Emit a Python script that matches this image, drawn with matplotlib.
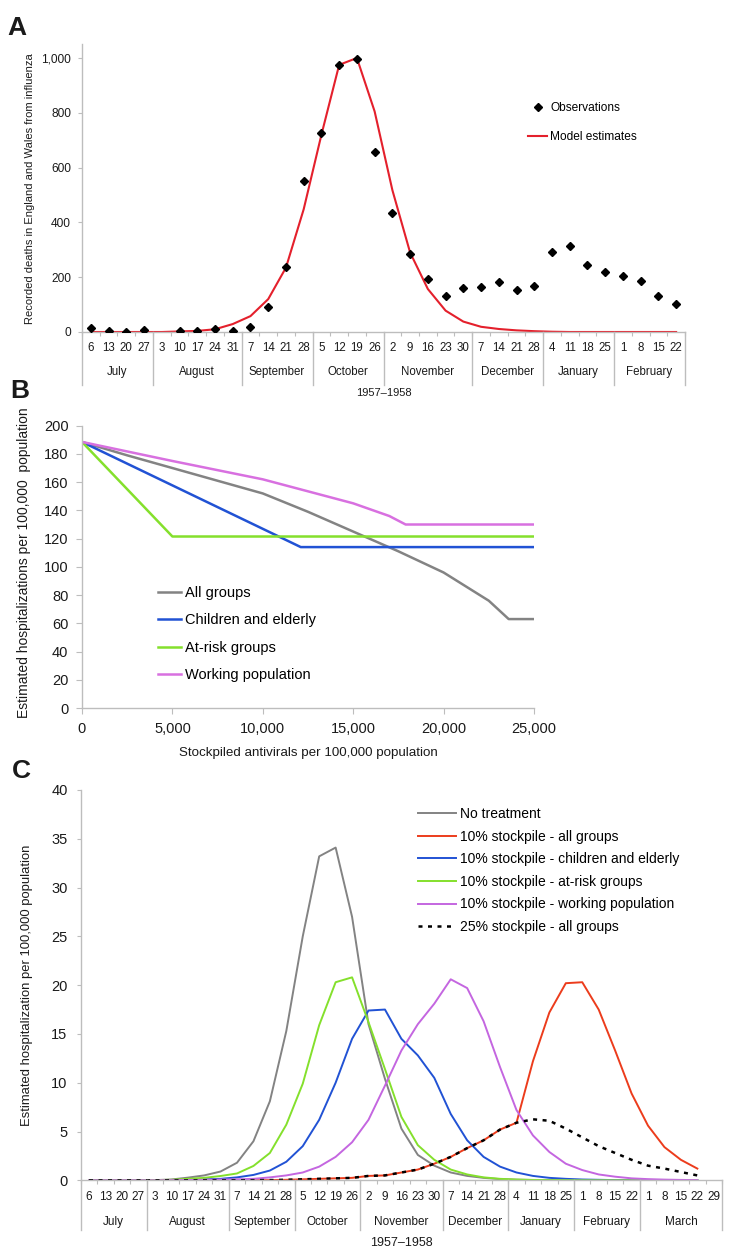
"""Three-panel figure: 1957-58 influenza deaths (A), hospitalizations vs stockpile (B),
and weekly hospitalization curves for stockpile strategies (C)."""

import numpy as np
import matplotlib
matplotlib.use("Agg")
import matplotlib.pyplot as plt
from matplotlib.lines import Line2D

plt.rcParams["font.family"] = ["Liberation Sans", "DejaVu Sans"]

W, H, DPI = 750, 1259, 100

# ── Panel A: weekly deaths ───────────────────────────────────────────────────
A_DAYS = [6, 13, 20, 27, 3, 10, 17, 24, 31, 7, 14, 21, 28, 5, 12, 19, 26,
          2, 9, 16, 23, 30, 7, 14, 21, 28, 4, 11, 18, 25, 1, 8, 15, 22]
A_MONTHS = ["July", "August", "September", "October", "November",
            "December", "January", "February"]
A_WEEKS = [4, 5, 4, 4, 5, 4, 4, 4]
A_OBS = [13, 3, 0, 7, np.nan, 3, 3, 12, 3, 18, 91, 236, 550, 727, 975, 998, 657,
         433, 285, 195, 132, 160, 164, 184, 153, 167, 293, 315, 246, 218,
         206, 186, 130, 102]
A_MODEL = [0, 0, 0, 0, 0, 2, 4, 10, 29, 58, 120, 235, 448, 720, 975, 1000, 805,
           518, 290, 157, 78, 38, 19, 11, 6, 3, 1, 0, 0, 0, 0, 0, 0, 0]

# ── Panel B: hospitalizations vs stockpile size ──────────────────────────────
B_ALL_X = [0, 2500, 5000, 7500, 10000, 12500, 15000, 17500, 20000, 22500, 23600, 25000]
B_ALL_Y = [188.5, 179, 170, 161, 152, 139, 125, 111, 96, 76, 63, 63]
B_CHILD_X = [0, 12100, 25000]
B_CHILD_Y = [188.5, 114, 114]
B_RISK_X = [0, 5000, 25000]
B_RISK_Y = [188.5, 121.5, 121.5]
B_WORK_X = [0, 5000, 10000, 15000, 17000, 17900, 25000]
B_WORK_Y = [188.5, 175, 162, 145, 136, 130, 130]

# ── Panel C: weekly hospitalizations ─────────────────────────────────────────
C_DAYS = [6, 13, 20, 27, 3, 10, 17, 24, 31, 7, 14, 21, 28, 5, 12, 19, 26,
          2, 9, 16, 23, 30, 7, 14, 21, 28, 4, 11, 18, 25, 1, 8, 15, 22,
          1, 8, 15, 22, 29]
C_MONTHS = ["July", "August", "September", "October", "November",
            "December", "January", "February", "March"]
C_WEEKS = [4, 5, 4, 4, 5, 4, 4, 4, 5]
C_NONE = [0, 0, 0, 0, 0.02, 0.08, 0.27, 0.5, 0.9, 1.8, 4.0, 8.1, 15.3, 25.0,
          33.2, 34.1, 27.0, 16.0, 10.4, 5.3, 2.6, 1.5, 0.8, 0.45, 0.25, 0.12,
          0.06, 0.03, 0.02, 0.01, 0, 0, 0, 0, 0, 0, 0, 0]
C_ALL10 = [0, 0, 0, 0, 0, 0, 0, 0, 0, 0, 0.01, 0.02, 0.05, 0.1, 0.15, 0.2,
           0.25, 0.45, 0.5, 0.8, 1.1, 1.7, 2.4, 3.3, 4.1, 5.2, 5.9, 12.2,
           17.2, 20.2, 20.3, 17.5, 13.3, 8.9, 5.6, 3.4, 2.1, 1.2]
C_CHILD = [0, 0, 0, 0, 0, 0.02, 0.05, 0.1, 0.15, 0.3, 0.55, 1.0, 1.9, 3.5,
           6.2, 10.0, 14.5, 17.4, 17.5, 14.5, 12.8, 10.5, 6.8, 4.1, 2.4, 1.4,
           0.8, 0.45, 0.25, 0.15, 0.08, 0.05, 0.02, 0.01, 0, 0, 0, 0]
C_RISK = [0, 0, 0, 0, 0.02, 0.05, 0.15, 0.25, 0.44, 0.7, 1.47, 2.8, 5.7, 9.9,
          15.9, 20.3, 20.8, 16.2, 11.4, 6.5, 3.6, 2.1, 1.1, 0.6, 0.3, 0.15,
          0.08, 0.04, 0.02, 0.01, 0, 0, 0, 0, 0, 0, 0, 0]
C_WORK = [0, 0, 0, 0, 0, 0.01, 0.03, 0.05, 0.08, 0.1, 0.15, 0.3, 0.5, 0.8,
          1.4, 2.4, 3.9, 6.2, 9.7, 13.3, 16.0, 18.1, 20.6, 19.7, 16.3, 11.6,
          7.2, 4.6, 2.9, 1.7, 1.05, 0.6, 0.37, 0.2, 0.12, 0.07, 0.04, 0.02]
C_ALL25 = [0, 0, 0, 0, 0, 0, 0, 0, 0, 0, 0.01, 0.02, 0.05, 0.1, 0.15, 0.2,
           0.25, 0.45, 0.5, 0.8, 1.1, 1.7, 2.4, 3.3, 4.1, 5.2, 5.9, 6.25,
           6.1, 5.3, 4.4, 3.5, 2.8, 2.1, 1.5, 1.2, 0.85, 0.5]

AXIS_GRAY = "#bdbdbd"
TEXT = "#1a1a1a"
GRAY = "#838383"
RED_A = "#e4202c"
RED = "#ec3c1c"
BLUE = "#2152d4"
GREEN = "#84e02c"
VIOLET_B = "#d870e0"
VIOLET = "#c466e0"


def px_box(left, top, right, bottom):
    return [left / W, 1 - bottom / H, (right - left) / W, (bottom - top) / H]


def style_spines(ax):
    for s in ("top", "right"):
        ax.spines[s].set_visible(False)
    for s in ("left", "bottom"):
        ax.spines[s].set_color(AXIS_GRAY)
        ax.spines[s].set_linewidth(1.0)


def category_axis(ax, days, months, weeks, fs_day, fs_month, fs_year,
                  month_off, sep_off, year_off):
    n = len(days)
    ax.set_xlim(-0.5, n - 0.5)
    ax.set_xticks(range(n))
    ax.set_xticklabels([str(d) for d in days], fontsize=fs_day, color=TEXT)
    ax.set_xticks(np.arange(-0.5, n, 1.0), minor=True)
    ax.tick_params(axis="x", which="major", length=0, pad=7.5)
    ax.tick_params(axis="x", which="minor", length=3, width=0.8,
                   color=AXIS_GRAY, direction="out")
    h = ax.get_position().height * H
    trans = ax.get_xaxis_transform()
    edges = np.concatenate([[0], np.cumsum(weeks)]) - 0.5
    for e in edges:
        ax.plot([e, e], [0, -sep_off / h], color=AXIS_GRAY, lw=1.0,
                transform=trans, clip_on=False)
    for m, a, b in zip(months, edges[:-1], edges[1:]):
        ax.text((a + b) / 2, -month_off / h, m, transform=trans, ha="center",
                va="center", fontsize=fs_month, color=TEXT)
    ax.text((edges[0] + edges[-1]) / 2, -year_off / h, "1957\u20131958",
            transform=trans, ha="center", va="center", fontsize=fs_year,
            color=TEXT)


fig = plt.figure(figsize=(W / DPI, H / DPI), dpi=DPI)

# ── A ────────────────────────────────────────────────────────────────────────
axA = fig.add_axes(px_box(82, 44.3, 685, 332))
style_spines(axA)
xa = np.arange(len(A_DAYS))
axA.plot(xa, A_MODEL, color=RED_A, lw=1.5, zorder=2)
axA.plot(xa, A_OBS, ls="none", marker="D", ms=3.6, color="black", zorder=3)
axA.set_ylim(0, 1050)
axA.set_yticks(range(0, 1001, 200))
axA.set_yticklabels([f"{v:,}" for v in range(0, 1001, 200)], fontsize=8.6,
                    color=TEXT)
axA.tick_params(axis="y", length=3, color=AXIS_GRAY, pad=5)
category_axis(axA, A_DAYS, A_MONTHS, A_WEEKS, 8.3, 8.3, 8.0, 40, 53, 61)
axA.set_ylabel("Recorded deaths in England and Wales from influenza",
               fontsize=8.0, color=TEXT, va="center")
axA.yaxis.set_label_coords(-0.086, 0.5)
fig.legend(handles=[
    Line2D([0], [0], ls="none", marker="D", ms=3.6, color="black",
           label="Observations"),
    Line2D([0], [0], color=RED_A, lw=1.5, label="Model estimates")],
    loc="upper left", bbox_to_anchor=(528 / W, 1 - 102 / H), frameon=False,
    fontsize=8.6, borderpad=0, borderaxespad=0, handlelength=1.6,
    handletextpad=0.25, labelspacing=1.4)

# ── B ────────────────────────────────────────────────────────────────────────
axB = fig.add_axes(px_box(82, 425.7, 534, 708))
style_spines(axB)
axB.plot(B_ALL_X, B_ALL_Y, color=GRAY, lw=1.8, label="All groups")
axB.plot(B_CHILD_X, B_CHILD_Y, color=BLUE, lw=1.8, label="Children and elderly")
axB.plot(B_RISK_X, B_RISK_Y, color=GREEN, lw=1.8, label="At-risk groups")
axB.plot(B_WORK_X, B_WORK_Y, color=VIOLET_B, lw=1.8, label="Working population")
axB.set_xlim(0, 25000)
axB.set_ylim(0, 200)
axB.set_yticks(range(0, 201, 20))
axB.set_xticks(range(0, 25001, 5000))
axB.set_xticklabels([f"{v:,}" for v in range(0, 25001, 5000)])
axB.tick_params(labelsize=10.5, labelcolor=TEXT, length=4, color=AXIS_GRAY)
axB.tick_params(axis="x", pad=6.3)
axB.tick_params(axis="y", pad=5.8)
axB.set_ylabel("Estimated hospitalizations per 100,000  population",
               fontsize=10, color=TEXT, va="center")
axB.yaxis.set_label_coords(-0.129, 0.515)
axB.set_xlabel("Stockpiled antivirals per 100,000 population", fontsize=9.6,
               color=TEXT, va="center")
axB.xaxis.set_label_coords(0.5, -45 / 282.3)
axB.legend(loc="upper left", bbox_to_anchor=(158 / W, 1 - 586 / H),
           bbox_transform=fig.transFigure, frameon=False, fontsize=10.5,
           borderpad=0, borderaxespad=0, handlelength=1.58,
           handletextpad=0.27, labelspacing=0.92)

# ── C ────────────────────────────────────────────────────────────────────────
axC = fig.add_axes(px_box(80.8, 790, 722, 1180.3))
style_spines(axC)
xc = np.arange(len(C_NONE))
axC.plot(xc, C_NONE, color=GRAY, lw=1.4, label="No treatment")
axC.plot(xc, C_ALL10, color=RED, lw=1.4, label="10% stockpile - all groups")
axC.plot(xc, C_CHILD, color=BLUE, lw=1.4,
         label="10% stockpile - children and elderly")
axC.plot(xc, C_RISK, color=GREEN, lw=1.4, label="10% stockpile - at-risk groups")
axC.plot(xc, C_WORK, color=VIOLET, lw=1.4,
         label="10% stockpile - working population")
axC.plot(xc, C_ALL25, color="black", lw=1.8, ls=(0, (1.6, 2.2)),
         label="25% stockpile - all groups")
axC.set_ylim(0, 40)
axC.set_yticks(range(0, 41, 5))
axC.tick_params(axis="y", labelsize=10.5, labelcolor=TEXT, length=3,
                color=AXIS_GRAY, pad=6.5)
category_axis(axC, C_DAYS, C_MONTHS, C_WEEKS, 8.5, 8.5, 9.0, 42, 50, 63)
axC.set_ylabel("Estimated hospitalization per 100,000 population",
               fontsize=9.4, color=TEXT, va="center")
axC.yaxis.set_label_coords(-0.084, 0.5)
axC.legend(loc="upper left", bbox_to_anchor=(418 / W, 1 - 807 / H),
           bbox_transform=fig.transFigure, frameon=False, fontsize=10,
           borderpad=0, borderaxespad=0, handlelength=2.7,
           handletextpad=0.36, labelspacing=0.62)

# panel letters
for letter, x, y in [("A", 17, 28), ("B", 20, 391), ("C", 21, 771)]:
    fig.text(x / W, 1 - y / H, letter, fontsize=19, fontweight="bold",
             ha="center", va="center", color=TEXT)

fig.savefig("out.png", dpi=DPI)
